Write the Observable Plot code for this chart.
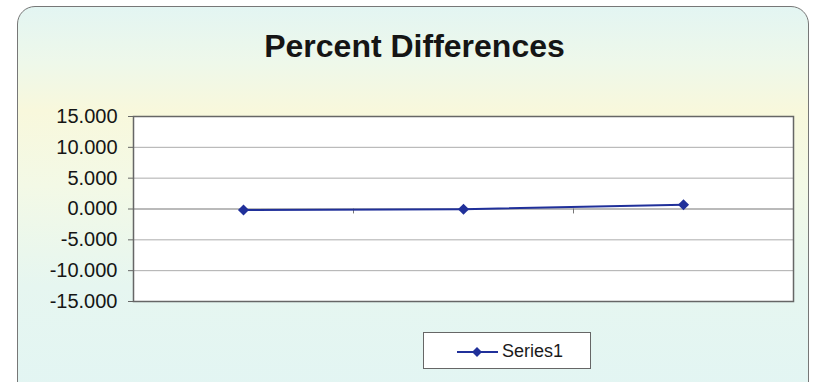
<!DOCTYPE html>
<html>
<head>
<meta charset="utf-8">
<script src="https://cdn.jsdelivr.net/npm/d3@7"></script>
<script src="https://cdn.jsdelivr.net/npm/@observablehq/plot@0.6"></script>
<style>
  html, body { margin: 0; padding: 0; background: #fff; }
  #page { position: relative; width: 813px; height: 382px; overflow: hidden; background: #fff; font-family: "Liberation Sans", Arial, sans-serif; }
  #panel { position: absolute; left: 17px; top: 6px; width: 792px; height: 400px; box-sizing: border-box;
    border: 1.5px solid #777; border-radius: 18px;
    background: linear-gradient(to bottom, #e3f5f2 0%, #eef8ea 14%, #f8f8dc 26%, #f3f9e6 45%, #e6f6f0 70%, #e2f5f3 100%); }
  #title { position: absolute; left: 0; width: 829px; top: 30px; text-align: center; font-size: 32px; line-height: 1; font-weight: bold; color: #151515; }
  #chart { position: absolute; left: 0; top: 100px; }
  #legend { position: absolute; left: 423px; top: 332px; width: 168px; height: 37px; box-sizing: border-box; border: 1px solid #666; background: #fff; }
  #legend svg { position: absolute; left: 32px; top: 11px; }
  #legend span { position: absolute; left: 78px; top: 9px; font-size: 18px; line-height: 1; color: #1a1a1a; }
</style>
</head>
<body>
<div id="page">
  <div id="panel"></div>
  <div id="title">Percent Differences</div>
  <div id="chart"></div>
  <div id="legend">
    <svg width="44" height="16"><line x1="1" y1="8" x2="42" y2="8" stroke="#20309a" stroke-width="2"/><path d="M21,3 L26,8 L21,13 L16,8 Z" fill="#20309a"/></svg>
    <span id="legendLabel"></span>
  </div>
</div>
<script>
// Data
const categories = [1, 2, 3];
const series1 = [-0.15, -0.05, 0.7];
const seriesName = "Series1";
const yTicks = [-15, -10, -5, 0, 5, 10, 15];
const categoryBoundaries = [1.5, 2.5];

const data = categories.map((c, i) => ({category: c, value: series1[i]}));
const navy = "#20309a";

document.getElementById("legendLabel").textContent = seriesName;

const chart = Plot.plot({
  width: 813,
  height: 215,
  marginLeft: 133,
  marginRight: 20,
  marginTop: 16,
  marginBottom: 14,
  style: {fontFamily: "Liberation Sans, Arial, sans-serif", fontSize: "20px", color: "#151515", background: "transparent", overflow: "visible"},
  x: {domain: [0.5, 3.5], axis: null},
  y: {domain: [-15, 15]},
  marks: [
    Plot.frame({fill: "#fff", stroke: "none"}),
    Plot.gridY(yTicks, {stroke: "#999", strokeOpacity: 0.8}),
    Plot.ruleY([0], {stroke: "#999", strokeOpacity: 0.9}),
    Plot.ruleX(categoryBoundaries, {y1: 0, y2: -0.8, stroke: "#777"}),
    Plot.frame({stroke: "#666", strokeWidth: 1.5}),
    Plot.axisY(yTicks, {tickSize: 5, tickPadding: 11, tickFormat: d => d.toFixed(3), stroke: "#666", fill: "#151515", label: null}),
    Plot.line(data, {x: "category", y: "value", stroke: navy, strokeWidth: 2}),
    Plot.dot(data, {x: "category", y: "value", symbol: "diamond2", r: 5, fill: navy, stroke: "none"})
  ]
});
document.getElementById("chart").appendChild(chart);
</script>
</body>
</html>
